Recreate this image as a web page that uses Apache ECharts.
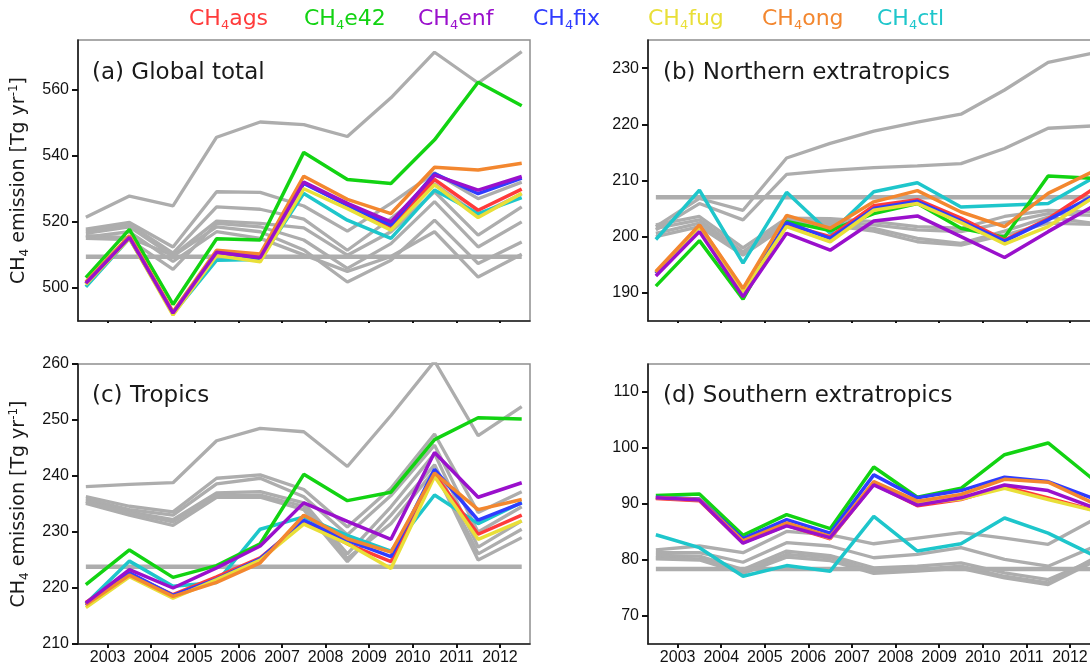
<!DOCTYPE html>
<html><head><meta charset="utf-8">
<script src="https://cdn.jsdelivr.net/npm/echarts@6/dist/echarts.min.js"></script>
<style>html,body{margin:0;padding:0;overflow:hidden;background:#fff}#c{width:1110px;height:666px}</style>
</head><body><div id="c"></div>
<script>
const years = [2002.5, 2003.5, 2004.5, 2005.5, 2006.5, 2007.5, 2008.5, 2009.5, 2010.5, 2011.5, 2012.5];
const yearTicks = [2003, 2004, 2005, 2006, 2007, 2008, 2009, 2010, 2011, 2012];
const seriesNames = ['CH4ags', 'CH4e42', 'CH4enf', 'CH4fix', 'CH4fug', 'CH4ong', 'CH4ctl'];
const panelTitles = ['(a) Global total', '(b) Northern extratropics', '(c) Tropics', '(d) Southern extratropics'];
const ticksA = [500, 520, 540, 560];
const ticksB = [190, 200, 210, 220, 230];
const ticksC = [210, 220, 230, 240, 250, 260];
const ticksD = [70, 80, 90, 100, 110];

// (a) Global total
const a_ags = [501.3, 515.3, 492.3, 510.8, 509.2, 531.8, 525.2, 518.5, 532.8, 523.5, 529.9];
const a_e42 = [503.1, 517.7, 495.0, 514.9, 514.5, 541.0, 532.8, 531.6, 544.8, 562.2, 555.1];
const a_enf = [501.4, 515.3, 492.4, 510.8, 509.2, 532.0, 525.6, 520.0, 534.1, 529.6, 533.7];
const a_fix = [501.2, 515.2, 492.3, 510.6, 509.0, 531.6, 525.0, 519.0, 534.6, 528.5, 533.2];
const a_fug = [501.0, 515.0, 491.8, 509.8, 507.9, 530.0, 524.0, 517.5, 531.2, 521.3, 528.6];
const a_ong = [501.8, 515.8, 492.8, 511.4, 510.3, 533.8, 526.8, 522.5, 536.5, 535.7, 537.7];
const a_ctl = [500.3, 515.0, 492.2, 508.4, 508.6, 528.6, 520.5, 515.0, 529.6, 522.5, 527.3];
const a_gray1 = [521.4, 527.8, 524.8, 545.6, 550.2, 549.4, 545.8, 557.5, 571.3, 562.0, 571.5];
const a_gray2 = [517.8, 519.8, 512.4, 529.1, 528.9, 524.8, 517.2, 525.6, 534.8, 527.0, 532.0];
const a_gray3 = [517.2, 519.2, 510.5, 524.5, 523.8, 520.8, 511.4, 521.0, 531.5, 522.0, 528.5];
const a_gray4 = [515.8, 515.2, 509.8, 520.2, 519.5, 518.2, 509.9, 517.0, 529.1, 516.0, 524.5];
const a_gray5 = [515.0, 514.6, 505.6, 519.5, 518.5, 514.5, 505.9, 513.4, 526.1, 512.4, 520.0];
const a_gray6 = [516.5, 518.5, 509.6, 518.5, 517.0, 511.5, 501.8, 508.4, 520.5, 507.4, 513.9];
const a_gray7 = [515.4, 517.0, 508.0, 517.0, 515.0, 510.0, 505.0, 509.5, 517.0, 503.3, 510.2];
const a_prior = [509.4, 509.4, 509.4, 509.4, 509.4, 509.4, 509.4, 509.4, 509.4, 509.4, 509.4];

// (b) Northern extratropics
const b_ags = [193.5, 202.0, 190.5, 202.2, 200.0, 205.5, 206.6, 203.3, 199.4, 203.2, 208.3];
const b_e42 = [191.2, 199.3, 188.9, 202.7, 201.1, 204.1, 205.9, 201.5, 199.9, 210.8, 210.4];
const b_enf = [193.0, 200.9, 189.3, 200.6, 197.6, 202.8, 203.7, 200.0, 196.3, 200.9, 205.3];
const b_fix = [193.5, 201.8, 190.3, 202.5, 199.7, 205.0, 206.3, 202.8, 199.2, 203.0, 207.1];
const b_fug = [193.7, 201.7, 190.2, 201.8, 199.1, 204.7, 205.9, 202.5, 198.7, 201.8, 206.8];
const b_ong = [193.8, 202.1, 190.8, 203.8, 201.5, 206.2, 208.2, 204.4, 201.8, 207.7, 211.5];
const b_ctl = [199.5, 208.3, 195.3, 207.9, 200.6, 208.0, 209.6, 205.3, 205.6, 205.9, 210.3];
const b_gray1 = [201.8, 206.8, 204.7, 214.0, 216.6, 218.8, 220.4, 221.8, 226.1, 231.0, 232.6];
const b_gray2 = [201.2, 205.9, 203.0, 211.1, 211.8, 212.3, 212.6, 213.0, 215.7, 219.3, 219.7];
const b_gray3 = [202.1, 203.6, 198.0, 203.3, 203.2, 202.7, 201.8, 201.5, 203.6, 204.7, 204.4];
const b_gray4 = [201.5, 203.0, 197.3, 202.8, 202.8, 202.1, 201.2, 200.9, 202.5, 204.1, 203.8];
const b_gray5 = [200.6, 202.4, 197.0, 202.4, 202.4, 201.5, 199.7, 198.8, 201.0, 203.5, 202.4];
const b_gray6 = [200.0, 201.8, 196.7, 202.0, 202.0, 201.0, 199.1, 198.5, 200.3, 202.4, 202.2];
const b_prior = [207.0, 207.0, 207.0, 207.0, 207.0, 207.0, 207.0, 207.0, 207.0, 207.0, 207.0];

// (c) Tropics
const c_ags = [217.4, 222.5, 218.8, 222.0, 225.4, 231.8, 227.9, 224.7, 240.3, 229.6, 233.0];
const c_e42 = [220.6, 226.8, 221.9, 224.0, 227.9, 240.3, 235.6, 237.1, 246.5, 250.4, 250.2];
const c_enf = [217.3, 223.3, 220.0, 223.6, 227.5, 235.2, 231.9, 228.7, 244.2, 236.2, 238.8];
const c_fix = [216.9, 222.7, 218.7, 221.6, 225.2, 232.1, 228.5, 225.6, 241.2, 232.1, 235.2];
const c_fug = [216.5, 222.0, 218.2, 221.5, 225.0, 231.4, 227.9, 223.5, 239.9, 228.7, 232.0];
const c_ong = [217.0, 222.3, 218.5, 221.0, 224.5, 233.0, 228.8, 226.4, 240.5, 234.0, 235.8];
const c_ctl = [217.2, 224.8, 220.3, 221.0, 230.5, 232.7, 229.4, 226.6, 236.6, 231.5, 235.3];
const c_gray1 = [238.1, 238.5, 238.8, 246.3, 248.5, 247.9, 241.7, 250.8, 260.5, 247.2, 252.4];
const c_gray2 = [236.3, 234.6, 233.6, 239.6, 240.2, 237.6, 230.9, 237.8, 247.5, 233.5, 237.2];
const c_gray3 = [235.9, 234.0, 233.0, 238.6, 239.6, 236.3, 229.5, 236.5, 245.5, 230.0, 234.5];
const c_gray4 = [235.5, 233.6, 232.2, 237.0, 237.2, 235.2, 226.1, 234.5, 244.0, 227.3, 232.0];
const c_gray5 = [235.1, 233.0, 231.2, 236.2, 236.2, 234.0, 224.7, 233.0, 242.0, 226.1, 230.5];
const c_gray6 = [235.4, 233.4, 231.8, 236.6, 236.6, 234.6, 225.3, 231.5, 241.0, 225.0, 229.0];
const c_prior = [223.8, 223.8, 223.8, 223.8, 223.8, 223.8, 223.8, 223.8, 223.8, 223.8, 223.8];

// (d) Southern extratropics
const d_ags = [91.0, 90.6, 83.1, 86.2, 83.8, 93.6, 89.7, 90.8, 93.1, 91.1, 89.0];
const d_e42 = [91.5, 91.8, 84.4, 88.1, 85.6, 96.6, 91.2, 92.8, 98.8, 100.9, 94.6];
const d_enf = [91.1, 90.7, 83.0, 86.1, 84.0, 93.4, 89.8, 91.1, 93.4, 92.4, 89.5];
const d_fix = [91.2, 90.9, 83.8, 87.2, 84.8, 95.2, 91.1, 92.4, 94.8, 94.0, 91.1];
const d_fug = [91.1, 90.7, 83.3, 86.4, 83.9, 93.7, 90.0, 90.9, 92.8, 90.8, 88.9];
const d_ong = [91.1, 90.8, 83.4, 86.6, 84.2, 94.0, 90.5, 91.7, 94.4, 93.9, 90.3];
const d_ctl = [84.5, 82.2, 77.1, 79.0, 78.0, 87.8, 81.6, 82.9, 87.5, 84.8, 81.0];
const d_gray1 = [81.8, 82.5, 81.3, 85.1, 84.5, 82.9, 83.9, 84.9, 83.9, 82.8, 87.0];
const d_gray2 = [81.3, 81.3, 79.6, 83.1, 82.5, 80.4, 81.0, 82.2, 80.1, 78.9, 82.2];
const d_gray3 = [80.8, 80.7, 78.3, 81.6, 80.8, 78.6, 78.9, 79.5, 77.7, 76.5, 79.8];
const d_gray4 = [80.4, 80.2, 78.0, 81.0, 80.4, 78.0, 78.3, 78.9, 77.1, 75.9, 80.1];
const d_gray5 = [80.2, 80.0, 77.6, 80.5, 79.9, 77.6, 78.0, 78.5, 76.8, 75.6, 79.5];
const d_prior = [78.4, 78.4, 78.4, 78.4, 78.4, 78.4, 78.4, 78.4, 78.4, 78.4, 78.4];

const colors = {CH4ags:'#ff3b3b', CH4e42:'#12d312', CH4enf:'#9a10cc', CH4fix:'#2f3cff', CH4fug:'#e9df38', CH4ong:'#f3872f', CH4ctl:'#1ec6cb'};
const GRAY = '#adadad';
const FONT = 'DejaVu Sans';
const NUMFONT = 'Liberation Sans';

const panels = [
  {col: {CH4ags:a_ags, CH4e42:a_e42, CH4enf:a_enf, CH4fix:a_fix, CH4fug:a_fug, CH4ong:a_ong, CH4ctl:a_ctl},
   grays: [a_gray1, a_gray2, a_gray3, a_gray4, a_gray5, a_gray6, a_gray7], prior: a_prior},
  {col: {CH4ags:b_ags, CH4e42:b_e42, CH4enf:b_enf, CH4fix:b_fix, CH4fug:b_fug, CH4ong:b_ong, CH4ctl:b_ctl},
   grays: [b_gray1, b_gray2, b_gray3, b_gray4, b_gray5, b_gray6], prior: b_prior},
  {col: {CH4ags:c_ags, CH4e42:c_e42, CH4enf:c_enf, CH4fix:c_fix, CH4fug:c_fug, CH4ong:c_ong, CH4ctl:c_ctl},
   grays: [c_gray1, c_gray2, c_gray3, c_gray4, c_gray5, c_gray6], prior: c_prior},
  {col: {CH4ags:d_ags, CH4e42:d_e42, CH4enf:d_enf, CH4fix:d_fix, CH4fug:d_fug, CH4ong:d_ong, CH4ctl:d_ctl},
   grays: [d_gray1, d_gray2, d_gray3, d_gray4, d_gray5], prior: d_prior}
];
const yTicks = [ticksA, ticksB, ticksC, ticksD];
const yRange = [[490, 575], [185, 235], [210, 260], [65, 115]];

const gridPos = [
  {left: 78, top: 40, width: 452, height: 281},
  {left: 648, top: 40, width: 452, height: 281},
  {left: 78, top: 364, width: 452, height: 280},
  {left: 648, top: 364, width: 452, height: 280}
];

const pair = arr => arr.map((v, i) => [years[i], v]);
const drawOrder = ['CH4ctl', 'CH4e42', 'CH4ags', 'CH4fix', 'CH4fug', 'CH4ong', 'CH4enf'];

const series = [];
panels.forEach((p, gi) => {
  p.grays.forEach((g, k) => series.push({
    name: 'gray' + gi + '_' + k, type: 'line', xAxisIndex: gi, yAxisIndex: gi,
    data: pair(g), showSymbol: false, silent: true,
    lineStyle: {color: GRAY, width: 3.3}, itemStyle: {color: GRAY}, z: 2
  }));
  series.push({
    name: 'prior' + gi, type: 'line', xAxisIndex: gi, yAxisIndex: gi,
    data: pair(p.prior), showSymbol: false, silent: true,
    lineStyle: {color: GRAY, width: 4.5}, itemStyle: {color: GRAY}, z: 2
  });
  drawOrder.forEach(n => series.push({
    name: n, type: 'line', xAxisIndex: gi, yAxisIndex: gi,
    data: pair(p.col[n]), showSymbol: false,
    lineStyle: {color: colors[n], width: 3.5}, itemStyle: {color: colors[n]}, z: 3
  }));
});

const legendStarts = [189, 304, 418, 533, 648, 762, 877];
const legends = seriesNames.map((n, i) => ({
  data: [n], left: legendStarts[i] - 5, top: 8, padding: 0,
  icon: 'rect', itemWidth: 0, itemHeight: 0, itemGap: 0, selectedMode: false,
  formatter: name => '{a|CH}{s|4}{a|' + name.slice(3) + '}',
  textStyle: {color: colors[n], rich: {
    a: {fontSize: 22, fontFamily: FONT, color: colors[n], lineHeight: 26},
    s: {fontSize: 13, fontFamily: FONT, color: colors[n], lineHeight: 14, verticalAlign: 'bottom'}
  }}
}));

const titleLeft = [92, 663, 92, 663];
const titleTop = [62, 62, 385, 385];
const titles = panelTitles.map((t, i) => ({
  text: t, left: titleLeft[i], top: titleTop[i], padding: 0,
  textStyle: {fontFamily: FONT, fontSize: 23, fontWeight: 'normal', color: '#1a1a1a'}
}));

const yName = '{t|CH}{s|4}{t| emission [Tg yr}{p|-1}{t|]}';
const xAxes = gridPos.map((g, i) => ({
  type: 'value', gridIndex: i, min: 2002.32, max: 2012.69,
  axisLine: {show: true, onZero: false, lineStyle: {color: '#222', width: 1.5}},
  axisTick: {show: true, customValues: yearTicks, length: i >= 2 ? 4 : 2, lineStyle: {color: '#111', width: 2}},
  axisLabel: {show: i >= 2, customValues: yearTicks, formatter: v => String(v), margin: 6, fontFamily: NUMFONT, fontSize: 16, color: '#111'},
  splitLine: {show: false}
}));
const yAxes = gridPos.map((g, i) => ({
  type: 'value', gridIndex: i, min: yRange[i][0], max: yRange[i][1],
  name: (i % 2 === 0) ? yName : '', nameLocation: 'middle', nameGap: 47, nameRotate: 90,
  nameTextStyle: {rich: {
    t: {fontSize: 19, fontFamily: FONT, color: '#1a1a1a', lineHeight: 23},
    s: {fontSize: 12, fontFamily: FONT, color: '#1a1a1a', lineHeight: 12, verticalAlign: 'bottom'},
    p: {fontSize: 12, fontFamily: FONT, color: '#1a1a1a', lineHeight: 12, verticalAlign: 'top'}
  }},
  axisLine: {show: true, onZero: false, lineStyle: {color: '#111', width: 1.5}},
  axisTick: {show: true, customValues: yTicks[i], length: 6, lineStyle: {color: '#111', width: 2}},
  axisLabel: {customValues: yTicks[i], formatter: v => String(v), margin: 9, fontFamily: NUMFONT, fontSize: 16, color: '#111'},
  splitLine: {show: false}
}));

const chart = echarts.init(document.getElementById('c'), null, {renderer: 'canvas'});
chart.setOption({
  animation: false,
  backgroundColor: '#fff',
  title: titles,
  legend: legends,
  grid: gridPos.map(g => Object.assign({show: true, borderColor: '#8f8f8f', borderWidth: 1.5, backgroundColor: 'transparent'}, g)),
  xAxis: xAxes,
  yAxis: yAxes,
  series: series
});
</script></body></html>
